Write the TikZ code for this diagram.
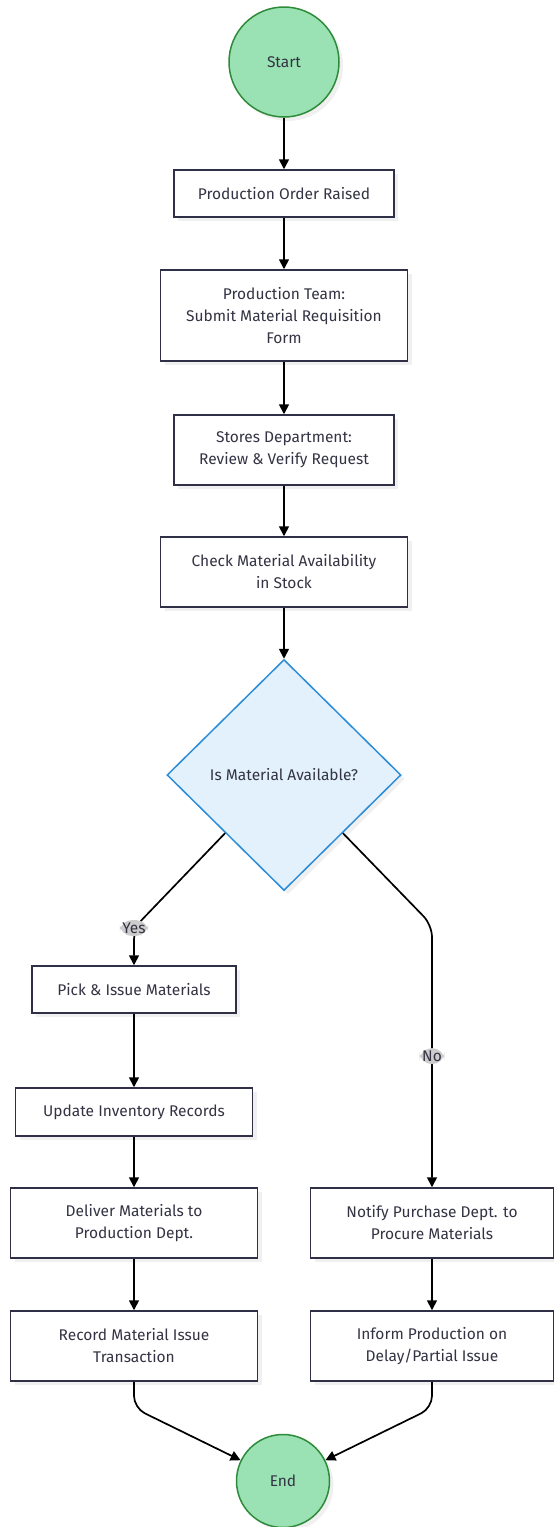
\documentclass[tikz,border=0pt]{standalone}
\usepackage{fontspec}
\setmainfont{Fira Sans}
\usetikzlibrary{arrows.meta,shapes.geometric,shadows}
\definecolor{FlowInk}{HTML}{2F3046}
\definecolor{FlowText}{HTML}{333344}
\definecolor{TermFill}{HTML}{9AE2B3}
\definecolor{TermLine}{HTML}{2E8B3A}
\definecolor{DecFill}{HTML}{E3F1FD}
\definecolor{DecLine}{HTML}{2B8CD8}
\definecolor{LblFill}{HTML}{CCCCCC}

\begin{document}
\begin{tikzpicture}[
    x=1pt,y=-1pt,
    font=\fontsize{15.5}{22}\selectfont,
    text=FlowText,
    softshadow/.style={drop shadow={opacity=0.12,shadow xshift=4pt,shadow yshift=-4pt}},
    term/.style={circle,draw=TermLine,line width=1.5pt,fill=TermFill,inner sep=0pt,softshadow},
    box/.style={draw=FlowInk,line width=1.5pt,fill=white,align=center,inner sep=4pt,softshadow},
    dec/.style={diamond,draw=DecLine,line width=1.5pt,fill=DecFill,inner sep=0pt,minimum width=234pt,minimum height=231pt,softshadow},
    lbl/.style={fill=LblFill,inner sep=2.5pt,text=FlowText},
    arr/.style={-{Triangle[length=10pt,width=10pt]},line width=1.7pt,black,rounded corners=12pt}
  ]
    \useasboundingbox (0,0) rectangle (554,1527);

    \node[term,minimum size=110pt] (start) at (284,62) {Start};
    \node[box,minimum width=220pt,minimum height=47pt] (order) at (284,193.5) {Production Order Raised};
    \node[box,minimum width=247pt,minimum height=91pt] (requis) at (284,315.5) {Production Team:\\Submit Material Requisition\\Form};
    \node[box,minimum width=220pt,minimum height=70pt] (review) at (284,450) {Stores Department:\\Review \& Verify Request};
    \node[box,minimum width=247pt,minimum height=70pt] (check) at (284,572) {Check Material Availability\\in Stock};
    \node[dec] (avail) at (284,775) {Is Material Available?};

    % yes branch
    \node[box,minimum width=204pt,minimum height=47pt] (pick) at (134,989.5) {Pick \& Issue Materials};
    \node[box,minimum width=237pt,minimum height=48pt] (update) at (134,1112) {Update Inventory Records};
    \node[box,minimum width=247pt,minimum height=70pt] (deliver) at (134,1223) {Deliver Materials to\\Production Dept.};
    \node[box,minimum width=247pt,minimum height=70pt] (record) at (134,1346) {Record Material Issue\\Transaction};

    % no branch
    \node[box,minimum width=243pt,minimum height=70pt] (notify) at (432,1223) {Notify Purchase Dept. to\\Procure Materials};
    \node[box,minimum width=243pt,minimum height=70pt] (inform) at (432,1346) {Inform Production on\\Delay/Partial Issue};

    \node[term,minimum size=93pt] (finish) at (283,1481) {End};

    \coordinate (yesbend) at (134,928);
    \coordinate (nobend) at (432,925);
    \coordinate (recbend) at (134,1408);
    \coordinate (infbend) at (432,1408);

    \draw[arr] (start) -- (order);
    \draw[arr] (order) -- (requis);
    \draw[arr] (requis) -- (review);
    \draw[arr] (review) -- (check);
    \draw[arr] (check) -- (avail);
    \draw[arr] (avail.south west) -- (yesbend) node[lbl] (yes) {Yes} -- (pick);
    \draw[arr] (avail.south east) -- (nobend) -- node[lbl] (no) {No} (notify);
    \draw[arr] (pick) -- (update);
    \draw[arr] (update) -- (deliver);
    \draw[arr] (deliver) -- (record);
    \draw[arr] (notify) -- (inform);
    \draw[arr] (record) -- (recbend) -- (finish);
    \draw[arr] (inform) -- (infbend) -- (finish);
  \end{tikzpicture}
\end{document}
